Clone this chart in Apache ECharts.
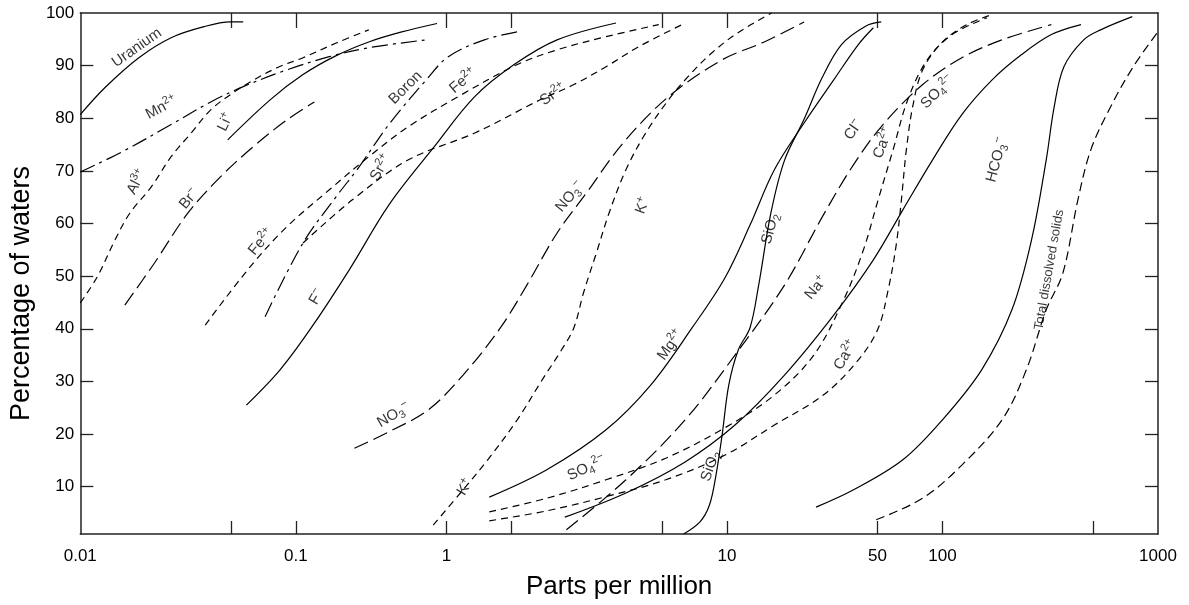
<!DOCTYPE html>
<html><head><meta charset="utf-8">
<script src="https://cdn.jsdelivr.net/npm/echarts@6/dist/echarts.min.js"></script>
<style>html,body{margin:0;padding:0;background:#fff}#c{width:1189px;height:605px}</style>
</head><body><div id="c"></div>
<script>
// ---- data: [ppm, percentage of waters] ----
const uranium = [[0.01,80.7],[0.013,85.8],[0.0187,91.5],[0.0264,95.3],[0.0375,97.4],[0.0498,98.3],[0.057,98.3]];
const manganese = [[0.01,69.8],[0.0156,73.6],[0.0264,78.8],[0.0403,83.1],[0.057,86.0],[0.091,89.2],[0.143,91.7],[0.218,93.4],[0.403,94.9]];
const lithium = [[0.0483,75.9],[0.076,83.5],[0.108,88.3],[0.154,91.9],[0.218,94.5],[0.31,96.4],[0.452,98.0]];
const aluminium = [[0.01,44.9],[0.012,49.9],[0.0145,56.9],[0.017,62.0],[0.0214,67.0],[0.0264,72.7],[0.0327,77.2],[0.0403,81.6],[0.0498,84.5],[0.0615,86.9],[0.0818,89.6],[0.108,91.5],[0.154,94.3],[0.218,96.8]];
const bromide = [[0.0161,44.5],[0.0221,52.5],[0.0316,62.0],[0.0448,68.9],[0.0635,74.6],[0.091,79.7],[0.122,83.1]];
const iron = [[0.038,40.7],[0.0615,51.8],[0.091,59.4],[0.143,66.4],[0.218,72.7],[0.333,78.4],[0.566,84.1],[1.065,90.2],[1.63,93.0],[2.75,95.5],[4.83,97.8]];
const strontium = [[0.108,56.3],[0.183,64.5],[0.333,72.1],[0.676,77.2],[1.36,83.5],[1.95,86.4],[2.75,89.8],[3.9,93.6],[6.2,97.8]];
const boron = [[0.072,42.3],[0.108,56.3],[0.154,65.1],[0.197,70.8],[0.27,78.8],[0.403,87.3],[0.51,91.7],[0.75,94.9],[1.12,96.6]];
const fluoride = [[0.059,25.5],[0.0845,32.2],[0.118,40.2],[0.177,51.2],[0.27,63.5],[0.435,74.4],[0.676,84.1],[1.03,90.2],[1.63,94.9],[3.06,98.1]];
const nitrate = [[0.187,17.3],[0.27,20.4],[0.412,24.6],[0.597,31.2],[0.89,40.2],[1.18,48.3],[1.63,58.2],[2.23,65.8],[3.3,75.3],[5.36,84.1],[9.5,91.1],[14.9,94.5],[22.8,98.3]];
const potassium = [[0.434,2.7],[0.597,9.4],[0.777,15.1],[1.065,22.7],[1.39,30.3],[1.71,36.0],[1.95,40.2],[2.16,46.8],[2.48,54.4],[2.84,62.0],[3.4,70.2],[4.2,77.2],[5.36,83.5],[6.6,87.9],[8.5,92.4],[11.2,96.2],[16.1,100]];
const magnesium = [[0.79,8.0],[1.46,13.2],[2.75,20.8],[4.43,29.3],[6.9,40.2],[9.8,49.7],[12.8,59.7],[16.6,70.2],[22.8,79.1],[31.3,87.3],[40.7,94.0],[47.8,97.2]];
const silica = [[6.3,1.0],[7.5,3.3],[8.3,6.5],[8.9,12.2],[9.5,19.8],[10.2,29.3],[11.3,36.0],[12.8,40.2],[14.0,48.0],[16.0,62.0],[18.5,72.0],[22.8,79.8],[27.5,87.5],[34.0,94.0],[44,97.5],[52,98.3]];
const sodium = [[1.77,4.2],[3.4,8.8],[6.4,14.7],[10.9,21.7],[18.5,31.2],[31.3,42.6],[47.8,53.1],[65.5,62.6],[90,72.1],[123,80.7],[170,87.3],[233,92.1],[320,95.9],[439,97.8]];
const chloride = [[1.8,1.8],[3.4,11.3],[6.4,22.7],[10.9,35.0],[18.5,48.3],[28,61.6],[38.7,71.2],[53,78.8],[81,86.4],[123,91.5],[189,94.9],[320,97.8]];
const calcium = [[0.79,3.5],[1.46,5.4],[2.75,8.1],[5.2,11.3],[9.8,16.0],[16.6,21.7],[28,27.4],[40,33.7],[50,39.8],[56,47.4],[61,55.9],[64.5,64.5],[68,74.0],[73,82.5],[81,89.2],[100,94.5],[130,97.8],[170,99.7]];
const sulfate = [[0.79,5.2],[1.46,7.8],[2.75,11.3],[5.2,15.4],[9.8,21.2],[16.6,27.4],[25.3,35.0],[34.8,45.5],[43,55.0],[50.3,64.5],[59,74.0],[69,83.5],[85,91.1],[111,95.9],[161,99.1]];
const bicarbonate = [[25.9,6.1],[38.7,9.4],[65.5,15.1],[100,22.7],[152,32.2],[210,43.6],[259,56.9],[303,72.1],[330,82.2],[366,89.8],[452,94.9],[542,96.8],[760,99.3]];
const totalSolids = [[49.3,3.7],[81,7.8],[123,14.1],[189,22.7],[245,32.2],[303,43.6],[362,50.6],[425,64.5],[488,74.0],[603,82.2],[768,89.8],[990,96.2]];

// ---- axis ticks / labels ----
const xTickValues = [0.05,0.1,0.5,1,5,10,50,100,500];
const xTopTickValues = [0.05,0.1,0.5,1,5,10,50,100];
const xLabelAt = [0.01,0.1,0.5,10,50,100,1000];
const xLabelText = ['0.01','0.1','1','10','50','100','1000'];
const yTickValues = [10,20,30,40,50,60,70,80,90];
const yLabelValues = [10,20,30,40,50,60,70,80,90,100];

// ---- curve labels: [base, subscript, superscript, ppm, percent, angle] ----
const curveLabels = [
  ['Uranium','','',0.0183,93.4,35],
  ['Mn','','2+',0.0238,82.0,28],
  ['Li','','+',0.0472,79.3,65],
  ['Al','','3+',0.0183,67.9,62],
  ['Br','','\u2212',0.032,64.7,50],
  ['Fe','','2+',0.069,56.5,50],
  ['F','','\u2212',0.125,46.1,60],
  ['Sr','','2+',0.248,70.6,60],
  ['Boron','','',0.323,85.8,45],
  ['Fe','','2+',0.597,87.1,40],
  ['Sr','','2+',1.56,84.5,35],
  ['NO','3','\u2212',1.87,65.1,50],
  ['K','','+',4.07,63.4,70],
  ['SiO','2','',15.9,59.0,75],
  ['NO','3','\u2212',0.284,23.6,30],
  ['K','','+',0.61,9.9,60],
  ['Mg','','2+',5.47,36.9,55],
  ['SO','4','2\u2212',2.23,13.5,25],
  ['SiO','2','',8.4,13.9,70],
  ['Na','','+',25.9,47.8,50],
  ['Ca','','2+',35.5,35.0,60],
  ['Cl','','\u2212',38.7,77.8,55],
  ['Ca','','2+',53,75.3,70],
  ['SO','4','2\u2212',95,85.0,45],
  ['HCO','3','\u2212',179,72.1,75],
  ['Total dissolved solids','','',313,51.2,80]
];

const FONT = 'Liberation Sans, Arial, Helvetica, sans-serif';
const SOLID = 'solid', SHORT = [7,5], LONG = [15,6], DASHDOT = [16,5,3,5], MED = [9,5];
const curves = [
  ['Uranium', uranium, SOLID], ['Mn2+', manganese, DASHDOT], ['Li+', lithium, SOLID],
  ['Al3+', aluminium, SHORT], ['Br-', bromide, LONG], ['Fe2+', iron, SHORT],
  ['Sr2+', strontium, SHORT], ['Boron', boron, DASHDOT], ['F-', fluoride, SOLID],
  ['NO3-', nitrate, LONG], ['K+', potassium, SHORT], ['Mg2+', magnesium, SOLID],
  ['SiO2', silica, SOLID], ['Na+', sodium, SOLID], ['Cl-', chloride, LONG],
  ['Ca2+', calcium, SHORT], ['SO42-', sulfate, SHORT], ['HCO3-', bicarbonate, SOLID],
  ['Total dissolved solids', totalSolids, MED]
];

const lineSeries = curves.map(c => ({
  name: c[0], type: 'line', xAxisIndex: 0, yAxisIndex: 0,
  data: c[1], showSymbol: false, smooth: 0.35, silent: true,
  lineStyle: {color: '#000', width: 1.2, type: c[2]}
}));

const labelSeries = {
  type: 'scatter', xAxisIndex: 0, yAxisIndex: 0, symbolSize: 1, silent: true,
  itemStyle: {color: 'rgba(0,0,0,0)'},
  data: curveLabels.map(l => {
    let f = '{b|' + l[0] + '}';
    if (l[1]) f += '{s|' + l[1] + '}';
    if (l[2]) f += '{p|' + l[2] + '}';
    const small = l[0].length > 10;
    return {
      value: [l[3], l[4]],
      label: {
        show: true, position: 'inside', rotate: l[5], formatter: f,
        rich: {
          b: {fontSize: small ? 13 : 15, fontFamily: FONT, color: '#000', lineHeight: 20},
          s: {fontSize: 11, fontFamily: FONT, color: '#000', lineHeight: 10, verticalAlign: 'bottom'},
          p: {fontSize: 11, fontFamily: FONT, color: '#000', lineHeight: 10, verticalAlign: 'top'}
        }
      }
    };
  })
};

const lg = v => Math.log10(v);
const axisLineStyle = {color: '#222', width: 1.5};
const tickLine = {color: '#222', width: 1.3};

const option = {
  animation: false,
  backgroundColor: '#fff',
  grid: {left: 68, right: 31, top: 13, bottom: 71, containLabel: false},
  xAxis: [
    {type: 'log', logBase: 10, min: 0.01, max: 1000, position: 'bottom',
     axisLine: {show: true, onZero: false, lineStyle: axisLineStyle}, axisTick: {show: false},
     axisLabel: {show: false}, splitLine: {show: false}, minorTick: {show: false}},
    {type: 'value', min: -2, max: 3, position: 'bottom',
     name: 'Parts per million', nameLocation: 'middle', nameGap: 40,
     nameTextStyle: {fontSize: 26, fontFamily: FONT, color: '#000'},
     axisLine: {show: false, onZero: false},
     axisTick: {show: true, inside: true, length: 13, customValues: xTickValues.map(lg), lineStyle: tickLine},
     axisLabel: {show: true, margin: 14, fontSize: 17, fontFamily: FONT, color: '#000',
       customValues: xLabelAt.map(lg),
       formatter: v => { const i = xLabelAt.findIndex(p => Math.abs(lg(p) - v) < 1e-6); return i >= 0 ? xLabelText[i] : ''; }},
     splitLine: {show: false}},
    {type: 'value', min: -2, max: 3, position: 'top',
     axisLine: {show: true, onZero: false, lineStyle: axisLineStyle},
     axisTick: {show: true, inside: true, length: 15, customValues: xTopTickValues.map(lg), lineStyle: tickLine},
     axisLabel: {show: false}, splitLine: {show: false}}
  ],
  yAxis: [
    {type: 'value', min: 1, max: 100, position: 'left',
     name: 'Percentage of waters', nameLocation: 'middle', nameGap: 43, nameRotate: 90,
     nameTextStyle: {fontSize: 27, fontFamily: FONT, color: '#000', padding: [0, 40, 0, 0]},
     axisLine: {show: true, onZero: false, lineStyle: axisLineStyle},
     axisTick: {show: true, inside: true, length: 13, customValues: yTickValues, lineStyle: tickLine},
     axisLabel: {show: true, margin: 6, fontSize: 17, fontFamily: FONT, color: '#000', customValues: yLabelValues},
     splitLine: {show: false}},
    {type: 'value', min: 1, max: 100, position: 'right',
     axisLine: {show: true, onZero: false, lineStyle: axisLineStyle},
     axisTick: {show: true, inside: true, length: 13, customValues: yTickValues, lineStyle: tickLine},
     axisLabel: {show: false}, splitLine: {show: false}}
  ],
  series: lineSeries.concat([labelSeries])
};

const chart = echarts.init(document.getElementById('c'), null, {renderer: 'canvas'});
chart.setOption(option);
</script>
</body></html>
